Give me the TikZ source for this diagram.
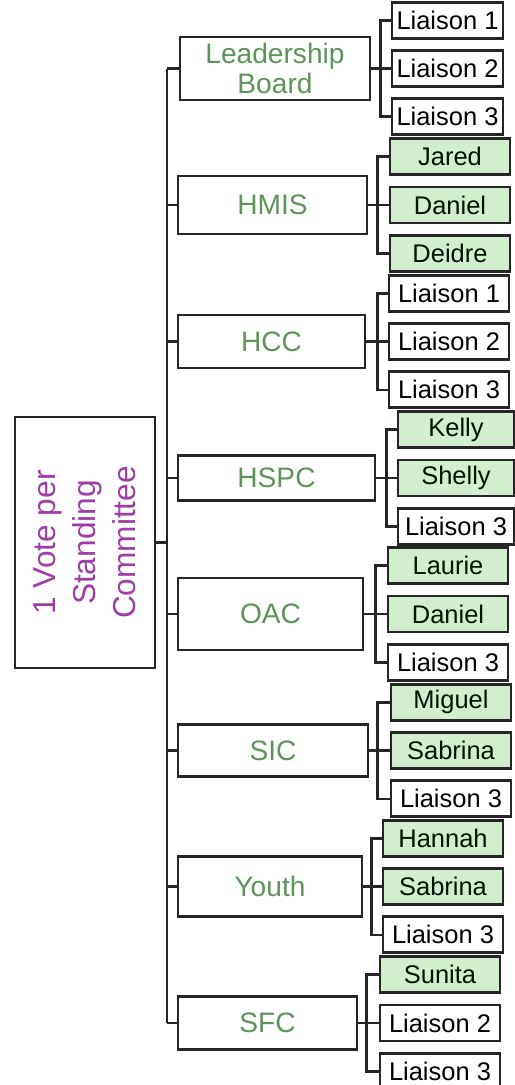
\documentclass[tikz,border=0pt]{standalone}
\usepackage{fontspec}
\setmainfont{Liberation Sans}
\usetikzlibrary{positioning}
\definecolor{cmtGreen}{HTML}{5E9459}
\definecolor{pickFill}{HTML}{D3EDCF}
\definecolor{votePurple}{HTML}{A03CA8}

\begin{document}
\begin{tikzpicture}[
  x=0.2mm, y=-0.2mm, node distance=1.9mm,
  root/.style={draw=black!85, line width=1.6pt, rotate=90, align=center, inner sep=0pt, minimum width=50.2mm, minimum height=28mm, text=votePurple, font=\fontsize{18}{22.7}\selectfont},
  comm/.style={draw=black!85, line width=1.6pt, align=center, inner sep=0pt, text=cmtGreen, font=\fontsize{16}{17}\selectfont},
  leaf/.style={draw=black!85, line width=1.6pt, inner sep=0pt, minimum width=24mm, minimum height=7.2mm, font=\fontsize{14.5}{16}\selectfont},
  pick/.style={leaf, fill=pickFill, text=black!80!green!40!black},
  lnk/.style={-, line width=1.5pt, black!85}]
\useasboundingbox (0,0) rectangle (515,1085);
\node[root] (root) at (85,542.5) {1 Vote per\\Standing\\Committee};
\coordinate (sp) at (167,0);
% committees
\node[comm, minimum width=38mm, minimum height=12.6mm] (lead) at (275,68.5) {Leadership\\Board};
\node[comm, minimum width=37.8mm, minimum height=11.6mm] (hmis) at (272.5,205) {HMIS};
\node[comm, minimum width=37.4mm, minimum height=10.6mm] (hcc) at (271.5,341.5) {HCC};
\node[comm, minimum width=39.4mm, minimum height=9mm] (hspc) at (276.5,478) {HSPC};
\node[comm, minimum width=37mm, minimum height=14.4mm] (oac) at (270.5,614) {OAC};
\node[comm, minimum width=38mm, minimum height=10.4mm] (sic) at (273,750.5) {SIC};
\node[comm, minimum width=36.8mm, minimum height=12mm] (youth) at (270,886.5) {Youth};
\node[comm, minimum width=35.8mm, minimum height=10.6mm] (sfc) at (267.5,1023) {SFC};
% members
\node[leaf, minimum width=22.2mm] (lead2) at (447.5,68.5) {Liaison 2};
\node[leaf, minimum width=22.2mm, above=of lead2] (lead1) {Liaison 1};
\node[leaf, minimum width=22.2mm, below=of lead2] (lead3) {Liaison 3};
\node[pick] (hmis2) at (450,205) {Daniel};
\node[pick, above=of hmis2] (hmis1) {Jared};
\node[pick, below=of hmis2] (hmis3) {Deidre};
\node[leaf] (hcc2) at (449,341.5) {Liaison 2};
\node[leaf, above=of hcc2] (hcc1) {Liaison 1};
\node[leaf, below=of hcc2] (hcc3) {Liaison 3};
\node[pick, minimum width=23.2mm] (hspc2) at (456,478) {Shelly};
\node[pick, minimum width=23.2mm, above=of hspc2] (hspc1) {Kelly};
\node[leaf, minimum width=23.2mm, below=of hspc2] (hspc3) {Liaison 3};
\node[pick] (oac2) at (448,614) {Daniel};
\node[pick, above=of oac2] (oac1) {Laurie};
\node[leaf, below=of oac2] (oac3) {Liaison 3};
\node[pick] (sic2) at (451,750.5) {Sabrina};
\node[pick, above=of sic2] (sic1) {Miguel};
\node[leaf, below=of sic2] (sic3) {Liaison 3};
\node[pick] (youth2) at (443,886.5) {Sabrina};
\node[pick, above=of youth2] (youth1) {Hannah};
\node[leaf, below=of youth2] (youth3) {Liaison 3};
\node[leaf] (sfc2) at (440,1023) {Liaison 2};
\node[pick, above=of sfc2] (sfc1) {Sunita};
\node[leaf, below=of sfc2] (sfc3) {Liaison 3};
% spine
\draw[lnk] (lead.west -| sp) -- (sfc.west -| sp);
\draw[lnk] (root.south) -- (root.south -| sp);
\draw[lnk] (lead.west -| sp) -- (lead.west);
\draw[lnk] (hmis.west -| sp) -- (hmis.west);
\draw[lnk] (hcc.west -| sp) -- (hcc.west);
\draw[lnk] (hspc.west -| sp) -- (hspc.west);
\draw[lnk] (oac.west -| sp) -- (oac.west);
\draw[lnk] (sic.west -| sp) -- (sic.west);
\draw[lnk] (youth.west -| sp) -- (youth.west);
\draw[lnk] (sfc.west -| sp) -- (sfc.west);
% branches
\draw[lnk] (lead.east) -- (lead2.west);
\draw[lnk] (lead1.west) -- ++(-10,0) |- (lead3.west);
\draw[lnk] (hmis.east) -- (hmis2.west);
\draw[lnk] (hmis1.west) -- ++(-11,0) |- (hmis3.west);
\draw[lnk] (hcc.east) -- (hcc2.west);
\draw[lnk] (hcc1.west) -- ++(-10,0) |- (hcc3.west);
\draw[lnk] (hspc.east) -- (hspc2.west);
\draw[lnk] (hspc1.west) -- ++(-10,0) |- (hspc3.west);
\draw[lnk] (oac.east) -- (oac2.west);
\draw[lnk] (oac1.west) -- ++(-11,0) |- (oac3.west);
\draw[lnk] (sic.east) -- (sic2.west);
\draw[lnk] (sic1.west) -- ++(-12,0) |- (sic3.west);
\draw[lnk] (youth.east) -- (youth2.west);
\draw[lnk] (youth1.west) -- ++(-10,0) |- (youth3.west);
\draw[lnk] (sfc.east) -- (sfc2.west);
\draw[lnk] (sfc1.west) -- ++(-12,0) |- (sfc3.west);
\end{tikzpicture}
\end{document}
